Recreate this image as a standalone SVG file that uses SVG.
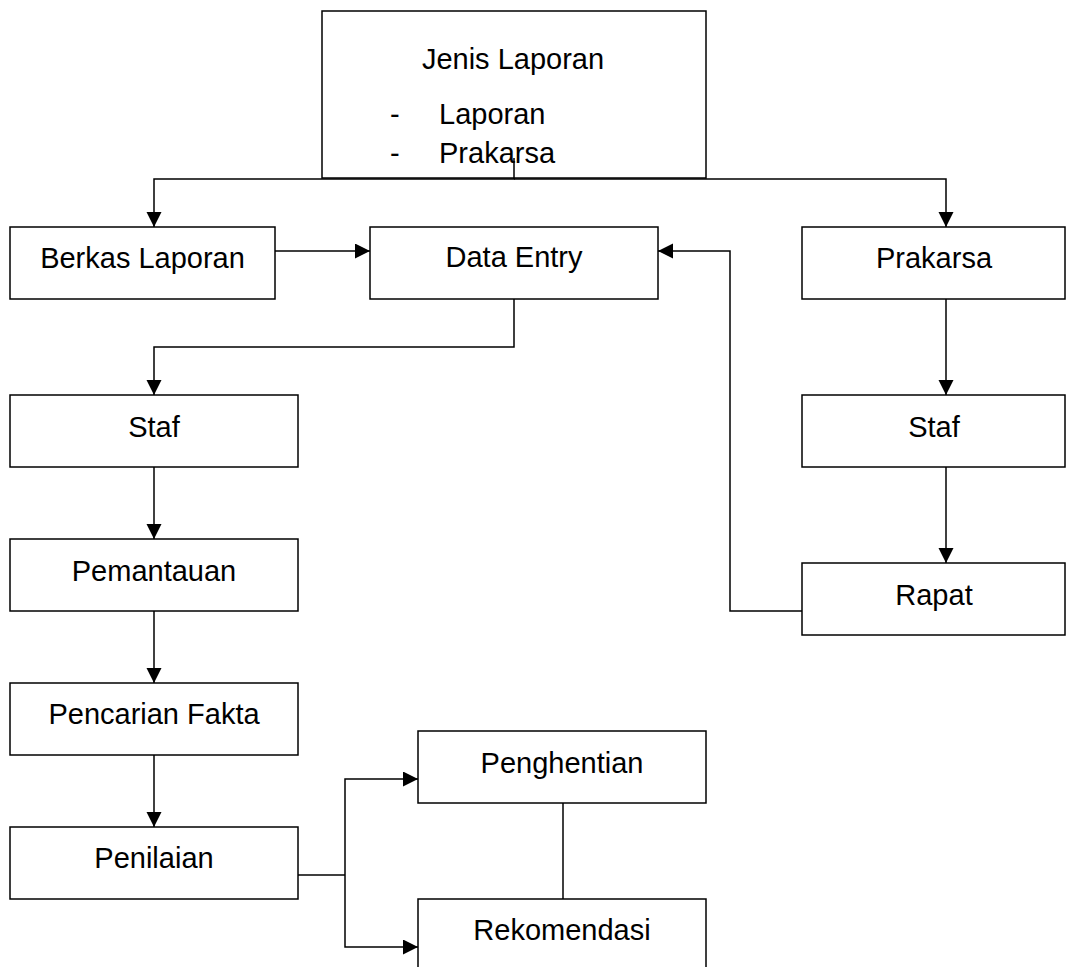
<svg xmlns="http://www.w3.org/2000/svg" width="1066" height="967" viewBox="0 0 1066 967">
<style>
.box{fill:#fff;stroke:#000;stroke-width:1.5}
.t{font-family:"Liberation Sans",Arial,sans-serif;font-size:29px;fill:#000;text-anchor:middle}
.ts{font-family:"Liberation Sans",Arial,sans-serif;font-size:29px;fill:#000}
.c{fill:none;stroke:#000;stroke-width:1.5}
</style>
<defs>
<marker id="arr" markerUnits="userSpaceOnUse" markerWidth="16" markerHeight="16" refX="15" refY="7.5" orient="auto">
<path d="M0,0 L15,7.5 L0,15 z" fill="#000"/>
</marker>
</defs>
<rect width="1066" height="967" fill="#fff"/>
<g id="jenis-laporan">
<rect class="box" x="322" y="11" width="384" height="167"/>
<text class="t" x="513" y="69">Jenis Laporan</text>
<text class="ts" x="390" y="124">-</text>
<text class="ts" x="439" y="124">Laporan</text>
<text class="ts" x="390" y="163">-</text>
<text class="ts" x="439" y="163">Prakarsa</text>
</g>
<g id="berkas-laporan">
<rect class="box" x="10" y="227" width="265" height="72"/>
<text class="t" x="142.5" y="268">Berkas Laporan</text>
</g>
<g id="data-entry">
<rect class="box" x="370" y="227" width="288" height="72"/>
<text class="t" x="514" y="267">Data Entry</text>
</g>
<g id="prakarsa">
<rect class="box" x="802" y="227" width="263" height="72"/>
<text class="t" x="934" y="268">Prakarsa</text>
</g>
<g id="staf-left">
<rect class="box" x="10" y="395" width="288" height="72"/>
<text class="t" x="154" y="437">Staf</text>
</g>
<g id="staf-right">
<rect class="box" x="802" y="395" width="263" height="72"/>
<text class="t" x="934" y="437">Staf</text>
</g>
<g id="rapat">
<rect class="box" x="802" y="563" width="263" height="72"/>
<text class="t" x="934" y="605">Rapat</text>
</g>
<g id="pemantauan">
<rect class="box" x="10" y="539" width="288" height="72"/>
<text class="t" x="154" y="581">Pemantauan</text>
</g>
<g id="pencarian-fakta">
<rect class="box" x="10" y="683" width="288" height="72"/>
<text class="t" x="154" y="724">Pencarian Fakta</text>
</g>
<g id="penilaian">
<rect class="box" x="10" y="827" width="288" height="72"/>
<text class="t" x="154" y="868">Penilaian</text>
</g>
<g id="penghentian">
<rect class="box" x="418" y="731" width="288" height="72"/>
<text class="t" x="562" y="773">Penghentian</text>
</g>
<g id="rekomendasi">
<rect class="box" x="418" y="899" width="288" height="80"/>
<text class="t" x="562" y="940">Rekomendasi</text>
</g>
<g id="connectors">
<path class="c" d="M514,158 V179 H154 V227" marker-end="url(#arr)"/>
<path class="c" d="M514,179 H946 V227" marker-end="url(#arr)"/>
<path class="c" d="M275,251 H370" marker-end="url(#arr)"/>
<path class="c" d="M514,299 V347 H154 V395" marker-end="url(#arr)"/>
<path class="c" d="M154,467 V539" marker-end="url(#arr)"/>
<path class="c" d="M154,611 V683" marker-end="url(#arr)"/>
<path class="c" d="M154,755 V827" marker-end="url(#arr)"/>
<path class="c" d="M946,299 V395" marker-end="url(#arr)"/>
<path class="c" d="M946,467 V563" marker-end="url(#arr)"/>
<path class="c" d="M802,611 H730 V251 H658" marker-end="url(#arr)"/>
<path class="c" d="M298,875 H345"/>
<path class="c" d="M345,875 V779 H418" marker-end="url(#arr)"/>
<path class="c" d="M345,875 V947 H418" marker-end="url(#arr)"/>
<path class="c" d="M563,803 V899"/>
</g>
</svg>
